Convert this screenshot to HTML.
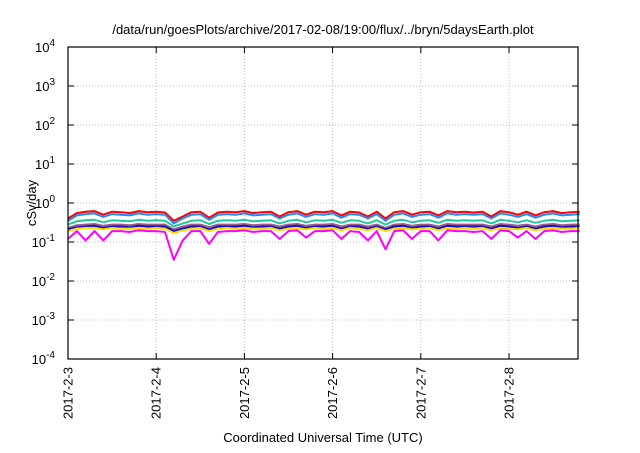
<!DOCTYPE html>
<html><head><meta charset="utf-8"><style>
body{margin:0;background:#fff;width:640px;height:448px;overflow:hidden;font-family:"Liberation Sans",sans-serif}
</style></head><body>
<svg id="chart" width="640" height="448" xmlns="http://www.w3.org/2000/svg" font-family="Liberation Sans, sans-serif"></svg>
<script>
const xTickLabels=["2017-2-3","2017-2-4","2017-2-5","2017-2-6","2017-2-7","2017-2-8"];
const yTickExps=[-4,-3,-2,-1,0,1,2,3,4];
const stepDays=0.1;
const seriesNames=["red","blue","teal","purple","navy","yellow","magenta"];
const seriesColors=["#ff0000","#1e8cff","#20c8a0","#a05a8c","#1010c0","#ffd800","#ff00ff"];
const redVals=[0.40,0.55,0.60,0.62,0.50,0.60,0.58,0.55,0.62,0.58,0.60,0.57,0.35,0.45,0.58,0.60,0.42,0.57,0.60,0.58,0.62,0.55,0.58,0.60,0.45,0.58,0.62,0.50,0.60,0.58,0.62,0.48,0.60,0.57,0.45,0.60,0.40,0.58,0.62,0.50,0.58,0.60,0.48,0.62,0.58,0.60,0.57,0.60,0.45,0.62,0.58,0.50,0.60,0.48,0.58,0.62,0.55,0.58,0.60];
const blueVals=[0.35,0.48,0.52,0.54,0.44,0.52,0.50,0.48,0.54,0.50,0.52,0.50,0.30,0.40,0.50,0.52,0.37,0.50,0.52,0.50,0.54,0.48,0.50,0.52,0.40,0.50,0.54,0.44,0.52,0.50,0.54,0.42,0.52,0.50,0.40,0.52,0.35,0.50,0.54,0.44,0.50,0.52,0.42,0.54,0.50,0.52,0.50,0.52,0.40,0.54,0.50,0.44,0.52,0.42,0.50,0.54,0.48,0.50,0.52];
const tealVals=[0.28,0.34,0.36,0.37,0.32,0.36,0.35,0.34,0.37,0.35,0.36,0.35,0.25,0.30,0.35,0.36,0.29,0.35,0.36,0.35,0.37,0.34,0.35,0.36,0.30,0.35,0.37,0.32,0.36,0.35,0.37,0.31,0.36,0.35,0.30,0.36,0.28,0.35,0.37,0.32,0.35,0.36,0.31,0.37,0.35,0.36,0.35,0.36,0.30,0.37,0.35,0.32,0.36,0.31,0.35,0.37,0.34,0.35,0.36];
const purpleVals=[0.23,0.27,0.28,0.29,0.26,0.28,0.28,0.27,0.29,0.28,0.28,0.28,0.21,0.25,0.28,0.28,0.24,0.28,0.28,0.28,0.29,0.27,0.28,0.28,0.25,0.28,0.29,0.26,0.28,0.28,0.29,0.25,0.28,0.28,0.25,0.28,0.23,0.28,0.29,0.26,0.28,0.28,0.25,0.29,0.28,0.28,0.28,0.28,0.25,0.29,0.28,0.26,0.28,0.25,0.28,0.29,0.27,0.28,0.28];
const navyVals=[0.21,0.24,0.25,0.26,0.23,0.25,0.25,0.24,0.26,0.25,0.25,0.25,0.19,0.22,0.25,0.25,0.21,0.25,0.25,0.25,0.26,0.24,0.25,0.25,0.22,0.25,0.26,0.23,0.25,0.25,0.26,0.22,0.25,0.25,0.22,0.25,0.21,0.25,0.26,0.23,0.25,0.25,0.22,0.26,0.25,0.25,0.25,0.25,0.22,0.26,0.25,0.23,0.25,0.22,0.25,0.26,0.24,0.25,0.25];
const yellowVals=[0.19,0.22,0.23,0.23,0.21,0.23,0.22,0.22,0.23,0.22,0.23,0.22,0.17,0.20,0.22,0.23,0.19,0.22,0.23,0.22,0.23,0.22,0.22,0.23,0.20,0.22,0.23,0.21,0.23,0.22,0.23,0.20,0.23,0.22,0.20,0.23,0.19,0.22,0.23,0.21,0.22,0.23,0.20,0.23,0.22,0.23,0.22,0.23,0.20,0.23,0.22,0.21,0.23,0.20,0.22,0.23,0.22,0.22,0.23];
const magentaVals=[0.12,0.19,0.11,0.19,0.11,0.19,0.19,0.18,0.20,0.19,0.19,0.18,0.035,0.11,0.19,0.19,0.09,0.18,0.19,0.19,0.20,0.18,0.19,0.19,0.12,0.19,0.20,0.13,0.19,0.19,0.20,0.12,0.19,0.18,0.11,0.19,0.065,0.19,0.20,0.12,0.19,0.19,0.11,0.20,0.19,0.19,0.18,0.19,0.12,0.20,0.19,0.13,0.19,0.12,0.19,0.20,0.18,0.19,0.19];
const allVals=[redVals,blueVals,tealVals,purpleVals,navyVals,yellowVals,magentaVals];

const L=68,R=578,T=47,B=359,dayPx=88.2;
const svg=document.getElementById('chart');
const NS="http://www.w3.org/2000/svg";
function xs(d){return L+d*dayPx;}
function ys(v){return B-(Math.log10(v)+4)/8*(B-T);}
function mk(tag,attrs,name){const e=document.createElementNS(NS,tag);for(const k in attrs)e.setAttribute(k,attrs[k]);


svg.appendChild(e);return e;}
function txt(x,y,s,name,extra){const e=mk('text',Object.assign({x:x,y:y,'font-size':13,fill:'#000'},extra||{}),name);e.textContent=s;return e;}
yTickExps.forEach(p=>{const y=ys(Math.pow(10,p));
 if(p>-4&&p<4)mk('line',{x1:L,x2:R,y1:y,y2:y,stroke:'#bbb','stroke-dasharray':'1,2','stroke-width':1},'y-grid-line');
 mk('line',{x1:L,x2:L+6,y1:y,y2:y,stroke:'#000'},'y-tick');mk('line',{x1:R-6,x2:R,y1:y,y2:y,stroke:'#000'},'y-tick-right');
 const t=txt(55,y+5,'','y-tick-label',{'text-anchor':'end'});t.textContent='10';
 const s=document.createElementNS(NS,'tspan');s.setAttribute('dy','-6');s.setAttribute('font-size','10');s.textContent=String(p);t.appendChild(s);
});
xTickLabels.forEach((lab,i)=>{const x=xs(i);
 if(i>0)mk('line',{x1:x,x2:x,y1:T,y2:B,stroke:'#bbb','stroke-dasharray':'1,2','stroke-width':1},'x-grid-line');
 mk('line',{x1:x,x2:x,y1:B-6,y2:B,stroke:'#000'},'x-tick');mk('line',{x1:x,x2:x,y1:T,y2:T+6,stroke:'#000'},'x-tick-top');
 txt(0,0,lab,'x-tick-label',{transform:`translate(${x+4.5},${B+8}) rotate(-90)`,'text-anchor':'end'});
});
allVals.forEach((vals,si)=>{
 const d=vals.map((v,i)=>(i?'L':'M')+xs(i*stepDays).toFixed(1)+','+ys(v).toFixed(1)).join('');
 mk('path',{d:d,fill:'none',stroke:seriesColors[si],'stroke-width':2,'stroke-linejoin':'round'},'series-'+seriesNames[si]);
});
mk('rect',{x:L,y:T,width:R-L,height:B-T,fill:'none',stroke:'#000','stroke-width':1.2},'plot-border');
txt(323,34,'/data/run/goesPlots/archive/2017-02-08/19:00/flux/../bryn/5daysEarth.plot','chart-title',{'text-anchor':'middle'});
txt(0,0,'cSv/day','y-axis-title',{transform:'translate(36,203) rotate(-90)','text-anchor':'middle'});
txt(323,442,'Coordinated Universal Time (UTC)','x-axis-title',{'text-anchor':'middle'});
</script>
</body></html>
